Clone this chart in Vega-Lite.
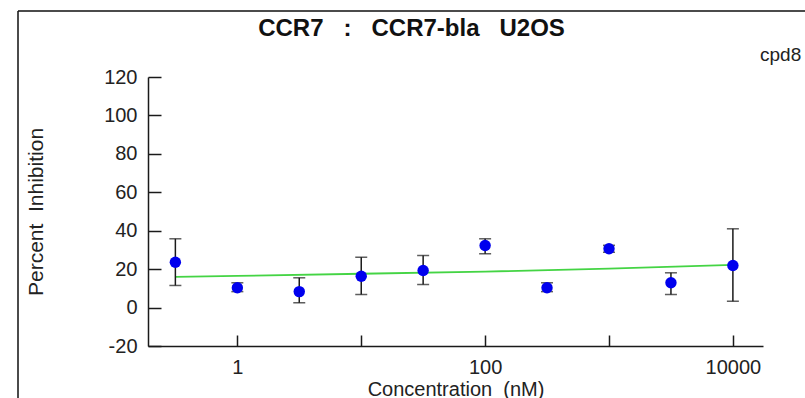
{
  "$schema": "https://vega.github.io/schema/vega-lite/v6.json",
  "width": 787,
  "height": 387,
  "autosize": {"type": "none"},
  "padding": {"left": 18, "top": 11, "right": 0, "bottom": 0},
  "background": "white",
  "config": {
    "font": "Liberation Sans",
    "view": {"stroke": "#111111", "strokeWidth": 1.5, "fill": "white", "strokeDash": [787, 1174, 387, 0]},
    "axis": {"grid": false, "domainColor": "#1a1a1a", "domainWidth": 1.5, "tickColor": "#1a1a1a", "tickWidth": 1.5, "labelColor": "#222222", "labelFontSize": 20, "titleFontSize": 20, "titleFontWeight": "normal", "titleColor": "#222222", "labelFont": "Liberation Sans", "titleFont": "Liberation Sans"},
    "axisX": {"offset": -52, "tickSize": -11, "labelPadding": 22, "titlePadding": 2},
    "axisY": {"offset": -130, "tickSize": -13, "labelPadding": 24, "titlePadding": 57, "tickCount": 8, "titleFontSize": 21, "labelExpr": "datum.value < 0 ? '-' + abs(datum.value) : datum.label"}
  },
  "title": {
    "text": "CCR7\u00a0\u00a0\u00a0:\u00a0\u00a0\u00a0CCR7-bla\u00a0\u00a0\u00a0U2OS",
    "fontSize": 24,
    "fontWeight": "bold",
    "font": "Liberation Sans",
    "color": "#111111",
    "anchor": "middle",
    "frame": "group",
    "baseline": "middle",
    "offset": -18,
    "dy": 24
  },
  "datasets": {
    "points": [
      {"conc": 0.316, "mean": 23.6, "lo": 11.5, "hi": 35.8, "compound": "cpd8"},
      {"conc": 1, "mean": 10.3, "lo": 8.3, "hi": 12.9, "compound": "cpd8"},
      {"conc": 3.16, "mean": 8.3, "lo": 2.5, "hi": 15.5, "compound": "cpd8"},
      {"conc": 10, "mean": 16.3, "lo": 6.8, "hi": 26.2, "compound": "cpd8"},
      {"conc": 31.6, "mean": 19.3, "lo": 12.0, "hi": 27.1, "compound": "cpd8"},
      {"conc": 100, "mean": 32.3, "lo": 28.0, "hi": 35.8, "compound": "cpd8"},
      {"conc": 316, "mean": 10.3, "lo": 8.3, "hi": 12.9, "compound": "cpd8"},
      {"conc": 1000, "mean": 30.6, "lo": 28.8, "hi": 32.4, "compound": "cpd8"},
      {"conc": 3162, "mean": 12.9, "lo": 6.8, "hi": 18.1, "compound": "cpd8"},
      {"conc": 10000, "mean": 21.9, "lo": 3.3, "hi": 41.0, "compound": "cpd8"}
    ],
    "fit": [
      {"conc": 0.316, "fit": 16.0},
      {"conc": 1, "fit": 16.5},
      {"conc": 10, "fit": 17.6},
      {"conc": 100, "fit": 18.7},
      {"conc": 1000, "fit": 20.3},
      {"conc": 10000, "fit": 22.2}
    ]
  },
  "encoding": {
    "x": {
      "field": "conc",
      "type": "quantitative",
      "title": "Concentration\u00a0\u00a0(nM)",
      "scale": {"type": "log", "domain": [0.19, 17500], "range": [130, 745], "nice": false},
      "axis": {"values": [1, 10, 100, 1000, 10000], "labelExpr": "datum.value == 10 || datum.value == 1000 ? '' : format(datum.value, 'd')"}
    }
  },
  "layer": [
    {
      "data": {"name": "fit"},
      "mark": {"type": "line", "color": "#44d444", "strokeWidth": 1.8},
      "encoding": {
        "y": {"field": "fit", "type": "quantitative", "title": "Percent\u00a0\u00a0Inhibition", "scale": {"domain": [-20, 120], "range": [335, 66], "nice": false, "zero": false}}
      }
    },
    {
      "data": {"name": "points"},
      "mark": {"type": "rule", "color": "#1a1a1a", "strokeWidth": 1.5},
      "encoding": {
        "y": {"field": "lo", "type": "quantitative", "title": "Percent\u00a0\u00a0Inhibition", "scale": {"domain": [-20, 120], "range": [335, 66], "nice": false, "zero": false}},
        "y2": {"field": "hi"}
      }
    },
    {
      "data": {"name": "points"},
      "mark": {"type": "tick", "orient": "horizontal", "color": "#1a1a1a", "size": 12, "thickness": 1.5},
      "encoding": {
        "y": {"field": "lo", "type": "quantitative", "title": "Percent\u00a0\u00a0Inhibition", "scale": {"domain": [-20, 120], "range": [335, 66], "nice": false, "zero": false}}
      }
    },
    {
      "data": {"name": "points"},
      "mark": {"type": "tick", "orient": "horizontal", "color": "#1a1a1a", "size": 12, "thickness": 1.5},
      "encoding": {
        "y": {"field": "hi", "type": "quantitative", "title": "Percent\u00a0\u00a0Inhibition", "scale": {"domain": [-20, 120], "range": [335, 66], "nice": false, "zero": false}}
      }
    },
    {
      "data": {"name": "points"},
      "mark": {"type": "point", "filled": true, "size": 130, "opacity": 1},
      "encoding": {
        "y": {"field": "mean", "type": "quantitative", "title": "Percent\u00a0\u00a0Inhibition", "scale": {"domain": [-20, 120], "range": [335, 66], "nice": false, "zero": false}},
        "color": {
          "field": "compound",
          "type": "nominal",
          "scale": {"range": ["#0000ee"]},
          "legend": {"orient": "none", "legendX": 723, "legendY": 34, "title": null, "padding": 0, "symbolSize": 0, "symbolOpacity": 0, "symbolStrokeWidth": 0, "labelOffset": 0, "labelFontSize": 19, "labelColor": "#222222", "labelFont": "Liberation Sans"}
        }
      }
    }
  ]
}
